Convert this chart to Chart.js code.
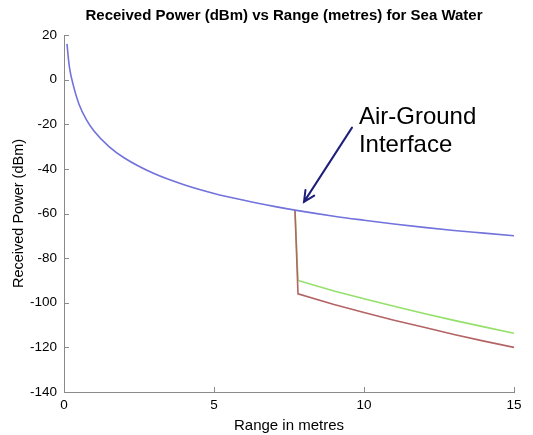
<!DOCTYPE html>
<html>
<head>
<meta charset="utf-8">
<script src="https://cdn.jsdelivr.net/npm/chart.js@4.4.1/dist/chart.umd.min.js"></script>
<style>
    html, body { margin: 0; padding: 0; background: #ffffff; }
    #wrap { width: 533px; height: 435px; position: relative; }
</style>
</head>
<body>
<div id="wrap"><canvas id="graficaPotencia"></canvas></div>
<script>
// values
const xTicks = [0, 5, 10, 15];
const yTicks = [20, 0, -20, -40, -60, -80, -100, -120, -140];

const aireX = [0.1, 0.15, 0.2, 0.3, 0.5, 0.75, 1, 1.5, 2, 3, 4, 5, 6, 7, 7.75, 9, 10, 11, 12, 13, 14, 15];
const aireY = [16, 9, 4, -2, -11, -18, -23, -30, -35, -42.1, -47.1, -51, -54.1, -56.8, -58.6, -61.2, -63, -64.7, -66.2, -67.6, -68.8, -70];

const sueloX = [7.7, 7.8, 9, 10, 11, 12, 13, 14, 15];
const sueloVerdeY = [-58.6, -90, -94.7, -98.2, -101.6, -104.8, -107.9, -110.8, -113.7];
const sueloRojoY = [-58.6, -96, -100.8, -104.4, -107.8, -111, -114.2, -117.2, -120];

const titulo = 'Received Power (dBm) vs Range (metres) for Sea Water';
const etiqueta = ['Air-Ground', 'Interface'];

function puntos(xs, ys) {
    return xs.map(function (x, i) { return { x: x, y: ys[i] }; });
}

const colorEje = '#8a8a8a';
const fuente = '"Liberation Sans", Arial, sans-serif';

const ticksAdentro = {
    id: 'ticksAdentro',
    afterDatasetsDraw: function (chart) {
        const ctx = chart.ctx;
        const x = chart.scales.x;
        const y = chart.scales.y;
        const area = chart.chartArea;
        ctx.save();
        ctx.strokeStyle = colorEje;
        ctx.lineWidth = 1;
        ctx.beginPath();
        xTicks.forEach(function (v) {
            const px = Math.round(x.getPixelForValue(v)) + 0.5;
            ctx.moveTo(px, area.bottom);
            ctx.lineTo(px, area.bottom - 5);
        });
        yTicks.forEach(function (v) {
            const py = Math.round(y.getPixelForValue(v)) + 0.5;
            ctx.moveTo(area.left, py);
            ctx.lineTo(area.left + 5, py);
        });
        ctx.stroke();
        ctx.restore();
    }
};

const anotacion = {
    id: 'anotacion',
    afterDraw: function (chart) {
        const ctx = chart.ctx;
        const x = chart.scales.x;
        const y = chart.scales.y;
        const area = chart.chartArea;
        ctx.save();
        // titulo
        ctx.fillStyle = '#000000';
        ctx.font = 'bold 15px ' + fuente;
        ctx.textAlign = 'center';
        ctx.textBaseline = 'alphabetic';
        ctx.fillText(titulo, (area.left + area.right) / 2 - 5, 20);

        // texto de la flecha
        const tx = x.getPixelForValue(9.83);
        const ty = y.getPixelForValue(-20.0);
        ctx.textAlign = 'left';
        ctx.font = '24px ' + fuente;
        ctx.fillText(etiqueta[0], tx, ty);
        ctx.fillText(etiqueta[1], tx, ty + 28);

        const x0 = x.getPixelForValue(9.6), y0 = y.getPixelForValue(-21.5);
        const x1 = x.getPixelForValue(8.0), y1 = y.getPixelForValue(-54.8);
        const ang = Math.atan2(y1 - y0, x1 - x0);
        ctx.strokeStyle = '#1f1f7a';
        ctx.lineWidth = 2;
        ctx.lineCap = 'round';
        ctx.beginPath();
        ctx.moveTo(x0, y0);
        ctx.lineTo(x1, y1);
        ctx.moveTo(x1 - 12 * Math.cos(ang - 0.45), y1 - 12 * Math.sin(ang - 0.45));
        ctx.lineTo(x1, y1);
        ctx.lineTo(x1 - 12 * Math.cos(ang + 0.45), y1 - 12 * Math.sin(ang + 0.45));
        ctx.stroke();
        ctx.restore();
    }
};

new Chart(document.getElementById('graficaPotencia'), {
    type: 'line',
    data: {
        datasets: [{
            data: puntos(aireX, aireY),
            borderColor: '#7272dc',
            borderWidth: 1.6,
            pointRadius: 0,
            cubicInterpolationMode: 'monotone',
            order: 0
        }, {
            data: puntos(sueloX, sueloRojoY),
            borderColor: '#b46464',
            borderWidth: 1.6,
            pointRadius: 0,
            order: 1
        }, {
            data: puntos(sueloX, sueloVerdeY),
            borderColor: '#94e06a',
            borderWidth: 1.6,
            pointRadius: 0,
            order: 2
        }]
    },
    plugins: [ticksAdentro, anotacion],
    options: {
        responsive: true,
        maintainAspectRatio: false,
        animation: false,
        layout: {
            padding: { left: 0, right: 19, top: 35, bottom: 0 }
        },
        plugins: {
            legend: { display: false },
            tooltip: { enabled: false },
            title: { display: false }
        },
        scales: {
            x: {
                type: 'linear',
                min: 0,
                max: 15,
                afterBuildTicks: function (scale) {
                    scale.ticks = xTicks.map(function (v) { return { value: v }; });
                },
                afterFit: function (scale) { scale.height = 43; },
                grid: { display: false, drawTicks: false },
                border: { display: true, color: colorEje, width: 1 },
                ticks: {
                    color: '#000000',
                    padding: 5,
                    maxRotation: 0,
                    font: { family: fuente, size: 13.5 }
                },
                title: {
                    display: true,
                    text: 'Range in metres',
                    color: '#000000',
                    padding: { top: 4, bottom: 0 },
                    font: { family: fuente, size: 15 }
                }
            },
            y: {
                type: 'linear',
                min: -140,
                max: 20,
                afterBuildTicks: function (scale) {
                    scale.ticks = yTicks.map(function (v) { return { value: v }; });
                },
                afterFit: function (scale) { scale.width = 64; },
                grid: { display: false, drawTicks: false },
                border: { display: true, color: colorEje, width: 1 },
                ticks: {
                    color: '#000000',
                    padding: 7,
                    font: { family: fuente, size: 13.5 }
                },
                title: {
                    display: true,
                    text: 'Received Power (dBm)',
                    color: '#000000',
                    padding: { top: 10, bottom: 0 },
                    font: { family: fuente, size: 14.5 }
                }
            }
        }
    }
});
</script>
</body>
</html>
